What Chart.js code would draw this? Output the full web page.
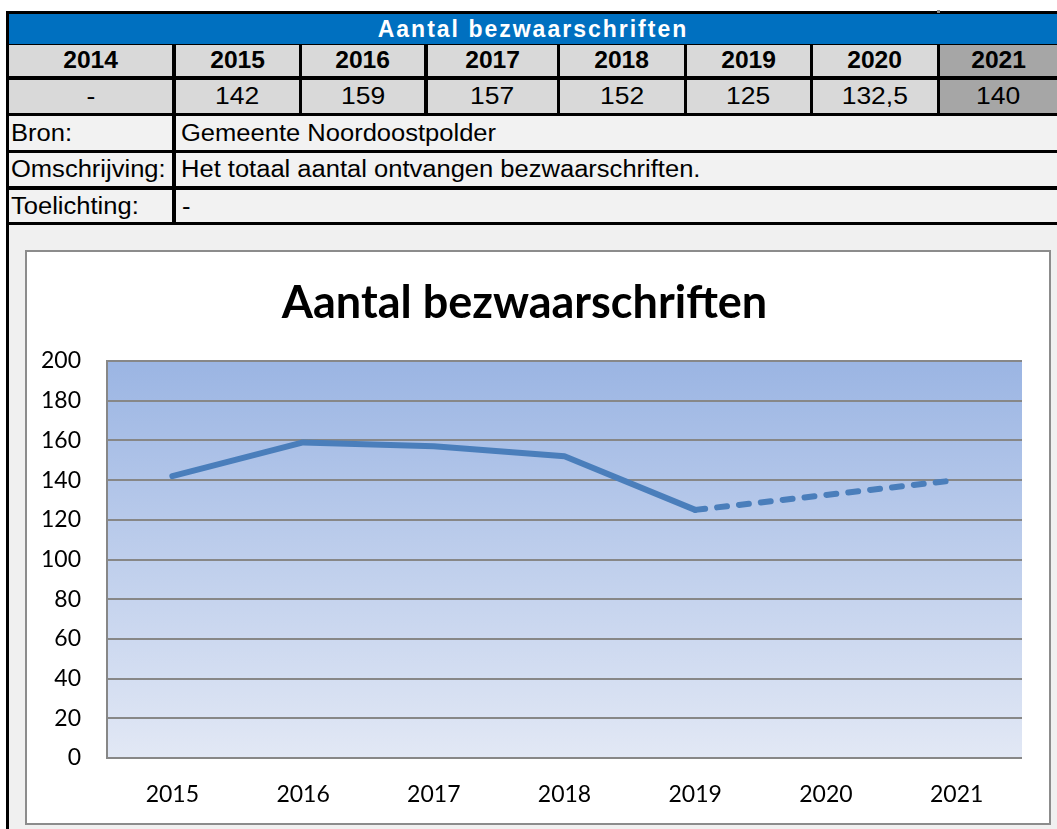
<!DOCTYPE html>
<html>
<head>
<meta charset="utf-8">
<script src="https://cdn.jsdelivr.net/npm/chart.js@4/dist/chart.umd.min.js"></script>
<style>
  body { margin: 0; background: #fff; width: 1057px; height: 829px; overflow: hidden; position: relative; font-family: "Liberation Sans", Arial, sans-serif; }
  .blk { position: absolute; background: #000; }
  .cell { position: absolute; box-sizing: border-box; display: flex; align-items: center; justify-content: center; font-size: 23px; color: #000; overflow: hidden; white-space: nowrap; }
  .cell span { display: inline-block; transform: scaleX(1.1); }
  .left { justify-content: flex-start; padding-left: 2px; }
  .left span { transform-origin: left center; transform: scaleX(1.11); }
  #lower { position: absolute; left: 9px; top: 225px; width: 1048px; height: 604px; background: #f0f0f0; }
  #box { position: absolute; left: 25px; top: 250px; width: 1026px; height: 575px; box-sizing: border-box; border: 2px solid #8c8c8c; background: #fff; }
</style>
</head>
<body>
<div class="blk" style="left:6px;top:11px;width:1051px;height:214px"></div>
<div class="blk" style="left:6px;top:11px;width:3px;height:818px"></div>
<div class="blk" style="left:937px;top:10px;width:3px;height:3px;background:#888"></div>
<div id="rows"></div>
<div id="lower"></div>
<div id="box"><canvas id="myCanvas" width="1022" height="571"></canvas></div>
<script>
var chartTitle = 'Aantal bezwaarschriften';
var categories = ['2015', '2016', '2017', '2018', '2019', '2020', '2021'];
var values = [142, 159, 157, 152, 125, 132.5, 140];
var tableYears = ['2014', '2015', '2016', '2017', '2018', '2019', '2020', '2021'];
var tableValues = ['-', '142', '159', '157', '152', '125', '132,5', '140'];
var yTicks = [0, 20, 40, 60, 80, 100, 120, 140, 160, 180, 200];
var infoLabels = ['Bron:', 'Omschrijving:', 'Toelichting:'];
var infoTexts = ['Gemeente Noordoostpolder', 'Het totaal aantal ontvangen bezwaarschriften.', '-'];

// sheet grid above the chart
var colEdges = [[9, 172], [176, 299], [302, 424], [428, 557], [560, 684], [687, 810], [813, 937], [940, 1057]];
var rows = document.getElementById('rows');
function addCell(x1, y1, x2, y2, bg, text, extra) {
  var d = document.createElement('div');
  d.className = 'cell' + (extra && extra.left ? ' left' : '');
  d.style.left = x1 + 'px'; d.style.top = y1 + 'px';
  d.style.width = (x2 - x1) + 'px'; d.style.height = (y2 - y1) + 'px';
  d.style.background = bg;
  if (extra && extra.css) d.style.cssText += extra.css;
  var s = document.createElement('span');
  s.textContent = text;
  if (extra && extra.scale) s.style.transform = 'scaleX(' + extra.scale + ')';
  d.appendChild(s);
  rows.appendChild(d);
}
addCell(9, 14, 1057, 44, '#0070c0', chartTitle, { css: 'color:#fff;font-weight:bold;font-size:23px;letter-spacing:2px;', scale: 1 });
tableYears.forEach(function(y, i) {
  var bg = i == tableYears.length - 1 ? '#a6a6a6' : '#d9d9d9';
  addCell(colEdges[i][0], 45, colEdges[i][1], 76, bg, y, { css: 'font-weight:bold;', scale: 1.07 });
  addCell(colEdges[i][0], 80, colEdges[i][1], 113, bg, tableValues[i], { scale: 1.15 });
});
var infoRows = [[116, 150], [153, 186], [190, 222]];
infoLabels.forEach(function(l, i) {
  addCell(9, infoRows[i][0], 172, infoRows[i][1], '#f2f2f2', l, { left: true });
  addCell(176, infoRows[i][0], 1057, infoRows[i][1], '#f2f2f2', infoTexts[i], { left: true, css: i == 2 ? 'padding-left:6px;' : 'padding-left:5px;' });
});

// gradient behind the plot area
var plotBg = {
  id: 'plotBg',
  beforeDraw: function(chart) {
    var a = chart.chartArea, c = chart.ctx;
    var g = c.createLinearGradient(0, a.top, 0, a.bottom);
    g.addColorStop(0, '#9bb5e3');
    g.addColorStop(1, '#e2e8f5');
    c.save();
    c.fillStyle = g;
    c.fillRect(a.left, a.top, a.right - a.left, a.bottom - a.top);
    c.restore();
  }
};

var ctx = document.getElementById('myCanvas');
var chart = new Chart(ctx, {
  type: 'line',
  data: {
    labels: categories,
    datasets: [{
      data: values,
      borderColor: '#4a7ebb',
      borderWidth: 6,
      pointRadius: 0,
      borderCapStyle: 'round',
      borderJoinStyle: 'round',
      tension: 0,
      fill: false,
      segment: {
        borderDash: function(s) { return s.p0DataIndex >= 4 ? [10, 12] : undefined; }
      }
    }]
  },
  options: {
    responsive: false,
    animation: false,
    layout: { padding: { left: 0, right: 27, top: 0, bottom: 0 } },
    plugins: {
      legend: { display: false },
      tooltip: { enabled: false },
      title: {
        display: true,
        text: chartTitle,
        color: '#000',
        font: { family: 'Lato', size: 45, weight: 'bold', lineHeight: 1.2 },
        padding: { top: 24, bottom: 31 }
      }
    },
    scales: {
      x: {
        offset: true,
        grid: { display: false, drawTicks: false },
        border: { display: false },
        ticks: { color: '#000', padding: 23, font: { family: 'Lato', size: 23 } },
        afterFit: function(s) { s.height = 65; }
      },
      y: {
        min: 0,
        max: 200,
        afterBuildTicks: function(s) { s.ticks = yTicks.map(function(v) { return { value: v }; }); },
        grid: { color: '#878787', lineWidth: 2, drawTicks: false },
        border: { display: true, color: '#878787', width: 2 },
        ticks: { color: '#000', padding: 26, font: { family: 'Lato', size: 23 } },
        afterFit: function(s) { s.width = 80; }
      }
    }
  },
  plugins: [plotBg]
});
</script>
</body>
</html>
